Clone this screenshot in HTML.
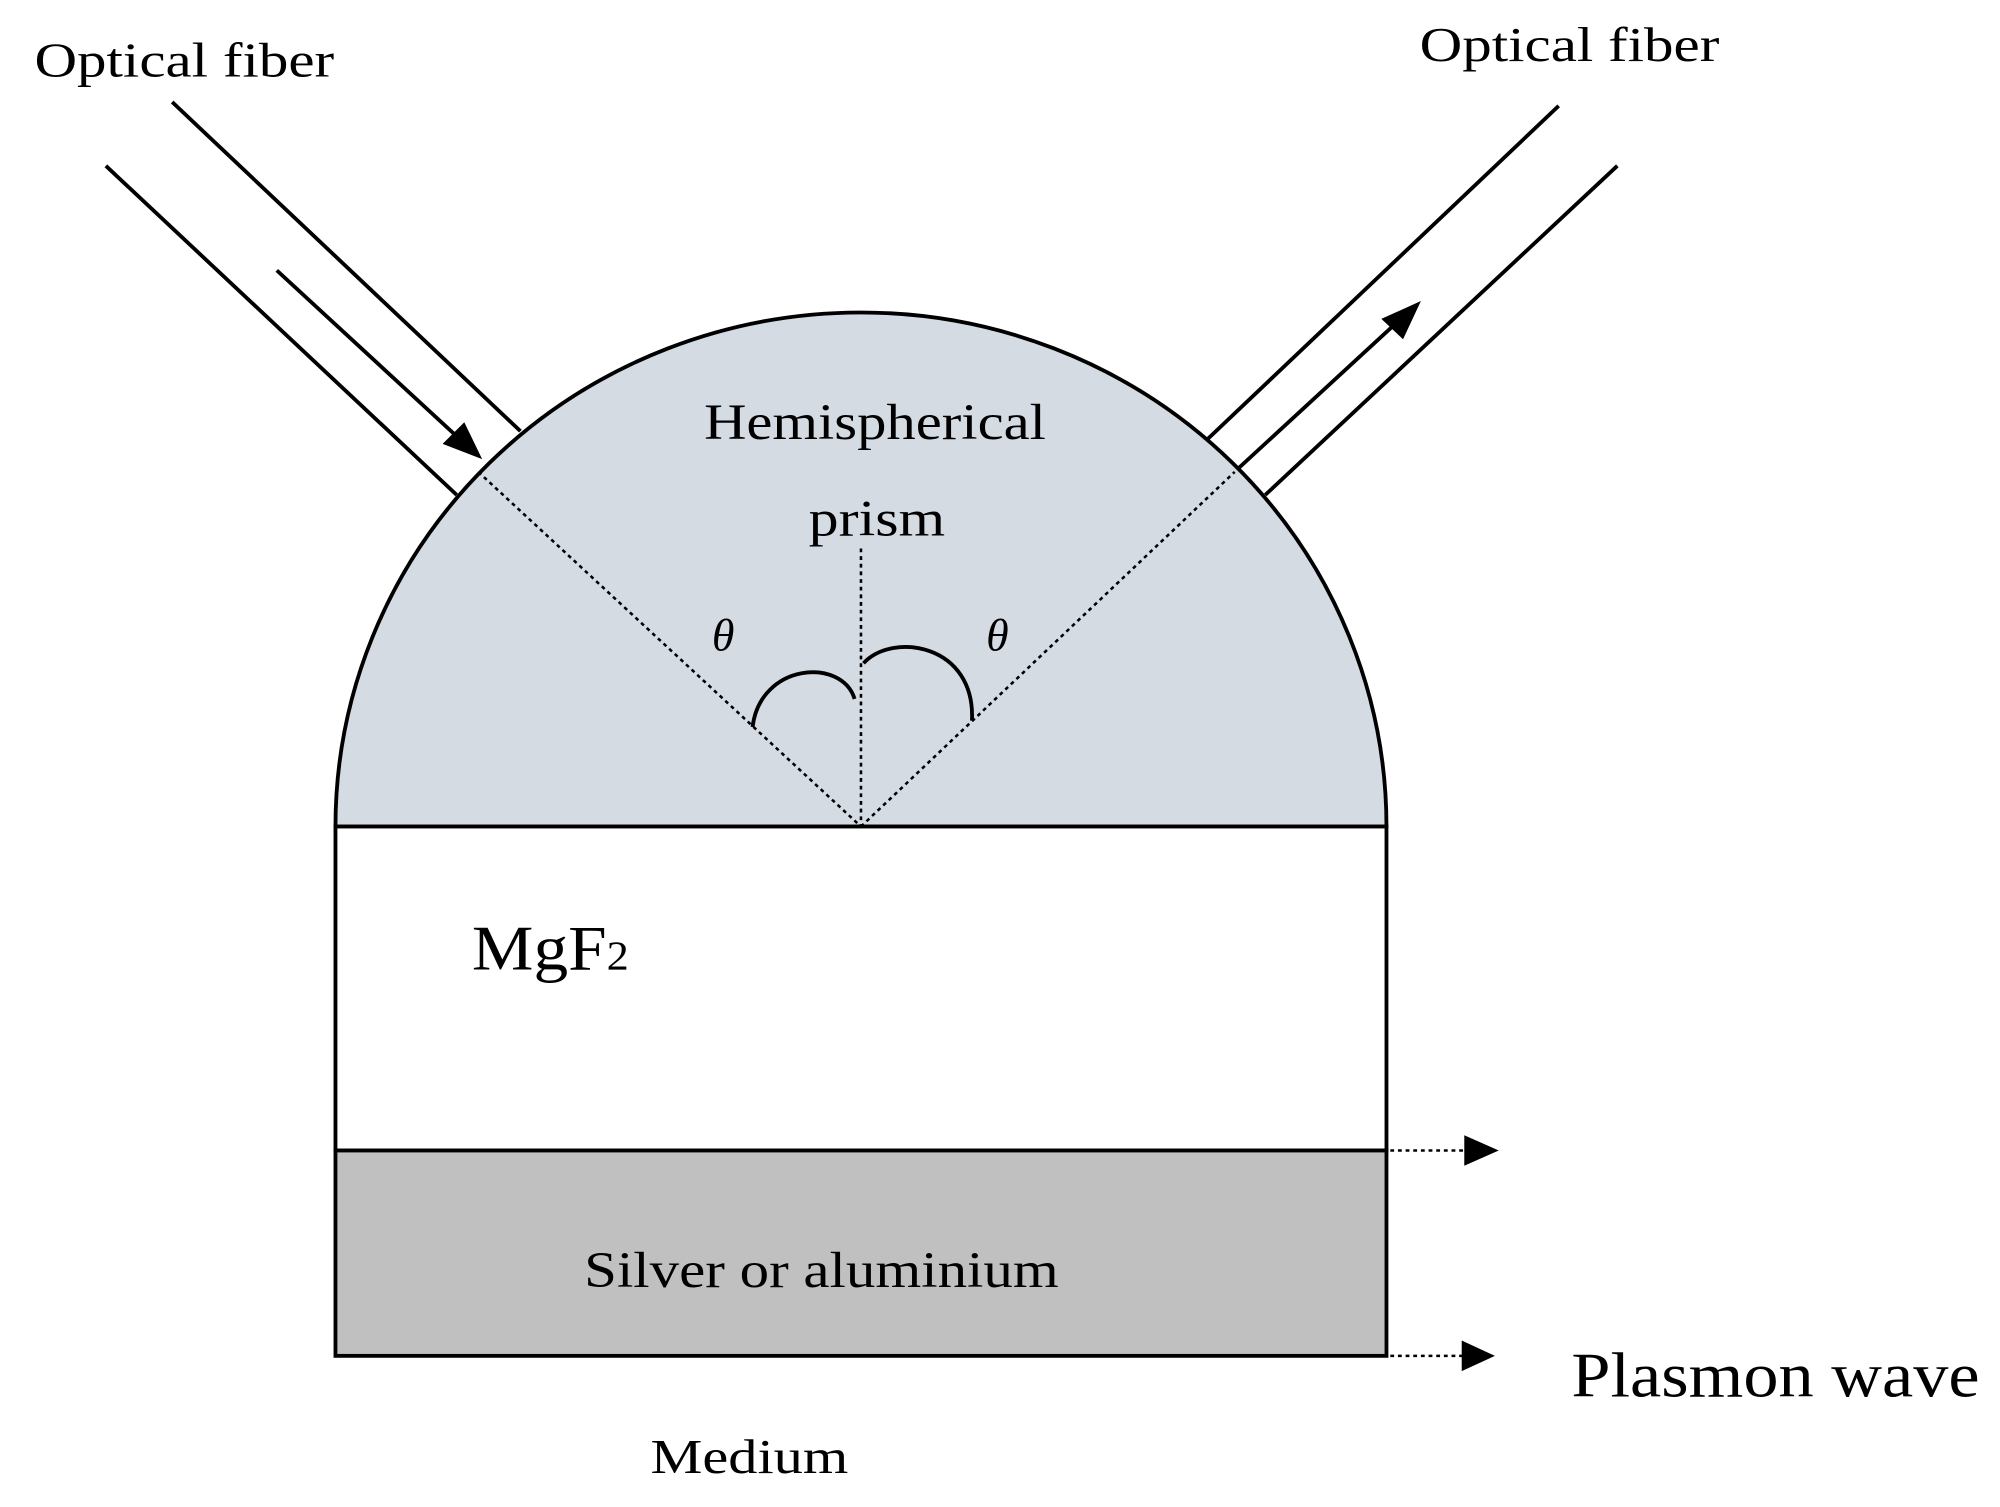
<!DOCTYPE html>
<html><head><meta charset="utf-8"><style>html,body{margin:0;padding:0;background:#fff}svg{display:block}</style></head>
<body>
<svg width="2000" height="1507" viewBox="0 0 1568 1181.5" xmlns="http://www.w3.org/2000/svg" font-family="'Liberation Serif', serif">
<path d="M263,648 A412,403 0 0 1 1087,648 Z" fill="#d5dbe3" stroke="#000" stroke-width="3"/>
<rect x="263" y="648" width="824" height="254" fill="#fff" stroke="#000" stroke-width="3"/>
<rect x="263" y="902" width="824" height="161" fill="#c0c0c0" stroke="#000" stroke-width="3"/>
<g stroke="#000" stroke-width="3" fill="none">
<line x1="135" y1="80" x2="408" y2="338"/>
<line x1="83" y1="130" x2="358" y2="388"/>
<line x1="1222" y1="83" x2="946" y2="345"/>
<line x1="1268" y1="130" x2="992" y2="388"/>
<line x1="217" y1="212" x2="358" y2="342"/>
<line x1="970" y1="368" x2="1096" y2="252"/>
<path d="M590,570 C596,520 660,515 670,548"/>
<path d="M677,520 C700,495 765,505 762,565"/>
</g>
<path d="M378,360 L347,348 L364,331 Z" fill="#000"/>
<path d="M1114,236 L1100,266 L1083,250 Z" fill="#000"/>
<g stroke="#000" stroke-width="2" stroke-dasharray="3,3" fill="none">
<line x1="375" y1="370" x2="675" y2="648"/>
<line x1="675" y1="648" x2="968" y2="370"/>
<line x1="675" y1="430" x2="675" y2="648"/>
<line x1="1090" y1="902" x2="1150" y2="902"/>
<line x1="1090" y1="1063" x2="1148" y2="1063"/>
</g>
<path d="M1148,890 L1175,902 L1148,914 Z" fill="#000"/>
<path d="M1146,1051 L1172,1063 L1146,1075 Z" fill="#000"/>
<g fill="#000">
<text x="27" y="60" font-size="38" textLength="235" lengthAdjust="spacingAndGlyphs">Optical fiber</text>
<text x="1113" y="48" font-size="38" textLength="235" lengthAdjust="spacingAndGlyphs">Optical fiber</text>
<text x="552" y="344" font-size="40" textLength="268" lengthAdjust="spacingAndGlyphs">Hemispherical</text>
<text x="634" y="420" font-size="40" textLength="107" lengthAdjust="spacingAndGlyphs">prism</text>
<text x="567" y="510" font-size="36" font-style="italic" text-anchor="middle">θ</text>
<text x="782" y="510" font-size="36" font-style="italic" text-anchor="middle">θ</text>
<text x="370" y="760" font-size="50" textLength="123" lengthAdjust="spacingAndGlyphs">MgF<tspan font-size="32">2</tspan></text>
<text x="458" y="1009" font-size="40" textLength="372" lengthAdjust="spacingAndGlyphs">Silver or aluminium</text>
<text x="1232" y="1095" font-size="50" textLength="320" lengthAdjust="spacingAndGlyphs">Plasmon wave</text>
<text x="510" y="1155" font-size="38" textLength="155" lengthAdjust="spacingAndGlyphs">Medium</text>
</g>
</svg>
</body></html>
